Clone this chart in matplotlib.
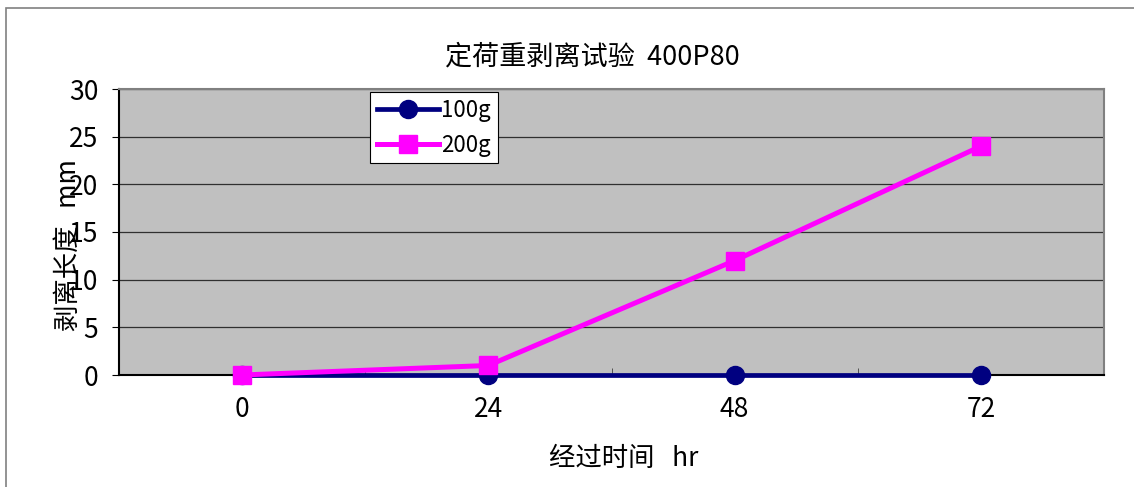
import matplotlib
matplotlib.use("Agg")
import matplotlib.pyplot as plt
from matplotlib.patches import Rectangle

plt.rcParams['font.family'] = ['Noto Sans CJK SC', 'DejaVu Sans']

# 经过时间 (hr) 与剥离长度 (mm)
hours = ['0', '24', '48', '72']
peel_100g = [0, 0, 0, 0]
peel_200g = [0, 1, 12, 24]

fig = plt.figure(figsize=(11.34, 4.87), dpi=100)
ax = fig.add_axes([119 / 1134, 1 - 375 / 487, 985 / 1134, 286 / 487])
ax.set_facecolor('#C0C0C0')

# 外框
fig.patches.append(Rectangle((6 / 1134, -0.1), 1.2, 1 - 8 / 487 + 0.1,
                             transform=fig.transFigure, fill=False,
                             edgecolor='#808080', linewidth=1.2))

x = list(range(len(hours)))
ax.plot(x, peel_100g, color='#000080', marker='o', markersize=13,
        linewidth=3.4, label='100g', clip_on=False, zorder=3)
ax.plot(x, peel_200g, color='#FF00FF', marker='s', markersize=13,
        linewidth=3.6, label='200g', clip_on=False, zorder=4)

ax.set_xlim(-0.5, len(hours) - 0.5)
ax.set_ylim(0, 30)
ax.set_yticks(range(0, 31, 5))
ax.set_xticks(x)
ax.set_xticklabels(hours)
ax.set_xticks([0.5, 1.5, 2.5], minor=True)
ax.tick_params(axis='x', which='major', length=0, pad=15, labelsize=19)
ax.tick_params(axis='x', which='minor', length=5, direction='in', color='#404040')
ax.tick_params(axis='y', length=5, direction='out', pad=10, labelsize=19)

ax.grid(axis='y', color='#303030', linewidth=0.9)
ax.set_axisbelow(True)

for side in ['left', 'bottom']:
    ax.spines[side].set_color('black')
    ax.spines[side].set_linewidth(1.5)
for side in ['top', 'right']:
    ax.spines[side].set_color('#808080')
    ax.spines[side].set_linewidth(1.5)

ax.text(0.481, 1.112, '定荷重剥离试验  400P80', transform=ax.transAxes,
        ha='center', va='center', fontsize=19.5)
ax.set_xlabel('经过时间   hr', fontsize=19)
ax.xaxis.set_label_coords(0.512, -0.245)
ax.set_ylabel('剥离长度   mm', fontsize=19)
ax.yaxis.set_label_coords(-0.038, 0.455)

leg = ax.legend(loc='upper left', bbox_to_anchor=(0.255, 0.99), fontsize=16,
                frameon=True, fancybox=False, edgecolor='black',
                handlelength=2.8, handletextpad=0.1, borderpad=0.3,
                labelspacing=0.55, borderaxespad=0)
leg.get_frame().set_linewidth(0.8)
leg.get_frame().set_facecolor('white')
leg.get_frame().set_alpha(1)

fig.savefig('out.png', dpi=100)
